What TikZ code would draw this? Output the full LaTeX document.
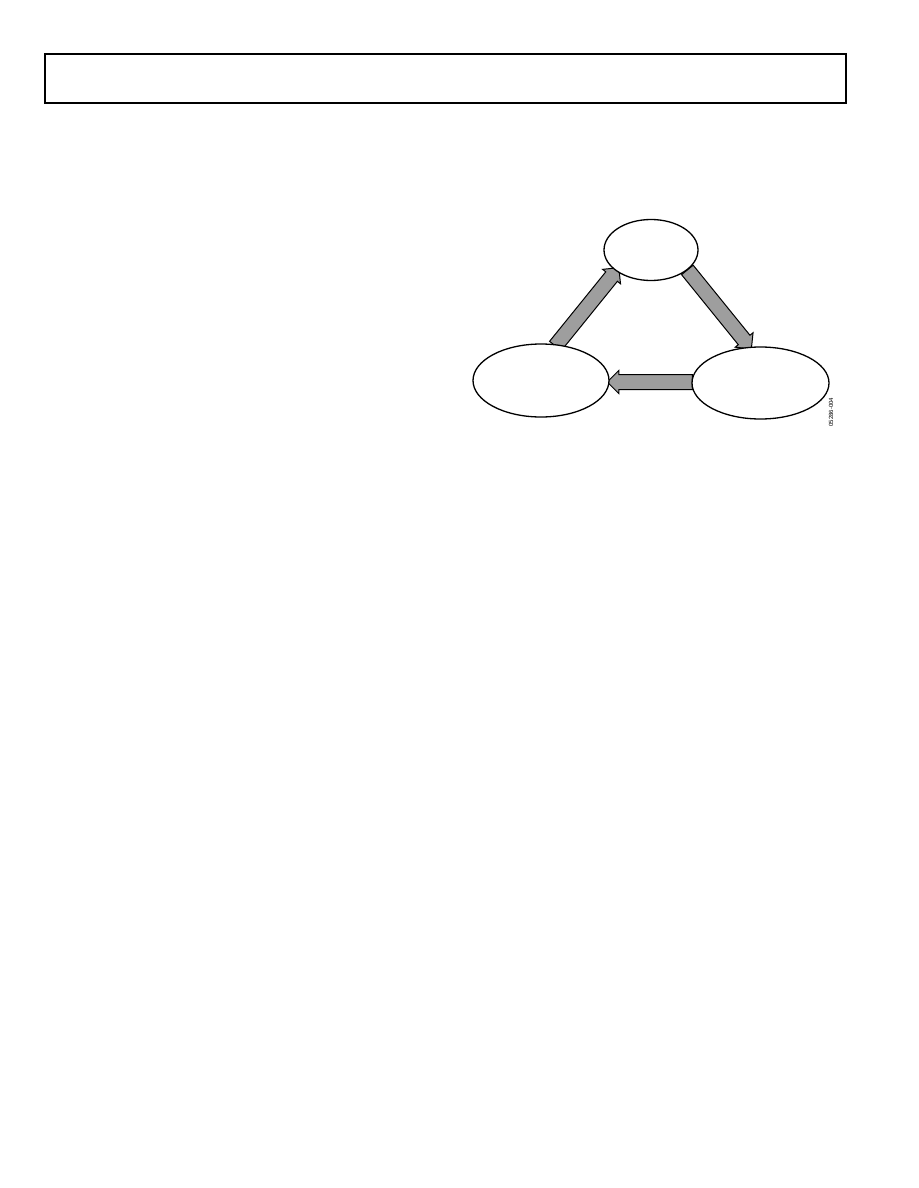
\documentclass[tikz,border=0pt]{standalone}
\usepackage{fontspec}
\newfontfamily\codefont{Liberation Sans}
\usepackage{tikz}
\usetikzlibrary{shapes.geometric,shapes.arrows,calc}

\begin{document}
\begin{tikzpicture}[x=1pt,y=-1pt,
  state/.style={draw,fill=white,ellipse,line width=1.3pt,inner sep=0pt},
  flow/.style={draw,single arrow,fill=black!38,line width=1pt,inner xsep=0pt,
    inner ysep=7pt,outer sep=0pt,minimum width=22pt,single arrow head extend=4pt}]

  \useasboundingbox (0,0) rectangle (918,1188);

  % header box
  \draw[line width=1.2pt] (45,103) -- (45,54) -- (846,54) -- (846,103);
  \draw[line width=2pt] (44,103) -- (847,103);

  % arrow ends
  \coordinate (L1) at (553,349); \coordinate (T1) at (616.5,270.5);
  \coordinate (T2) at (685,267); \coordinate (R2) at (749,346);
  \coordinate (R3) at (696,382); \coordinate (L3) at (611,382);

  % fat arrows
  \path let \p1=($(T1)-(L1)$) in
    node[flow,minimum height={veclen(\x1,\y1)},rotate={atan2(\y1,\x1)}]
    (up) at ($(L1)!0.5!(T1)$) {};
  \path let \p1=($(R2)-(T2)$) in
    node[flow,minimum height={veclen(\x1,\y1)},rotate={atan2(\y1,\x1)}]
    (down) at ($(T2)!0.5!(R2)$) {};
  \path let \p1=($(L3)-(R3)$) in
    node[flow,minimum height={veclen(\x1,\y1)},rotate={atan2(\y1,\x1)}]
    (back) at ($(R3)!0.5!(L3)$) {};

  % states
  \node[state,minimum width=94pt,minimum height=61pt] (top) at (651,250) {};
  \node[state,minimum width=136pt,minimum height=73pt] (left) at (541,380.5) {};
  \node[state,minimum width=137pt,minimum height=72pt] (right) at (760.5,383) {};

  \node[rotate=90,inner sep=0pt,font=\codefont\fontsize{6}{6}\selectfont]
    (code) at (831,412) {05286-004};
\end{tikzpicture}
\end{document}
